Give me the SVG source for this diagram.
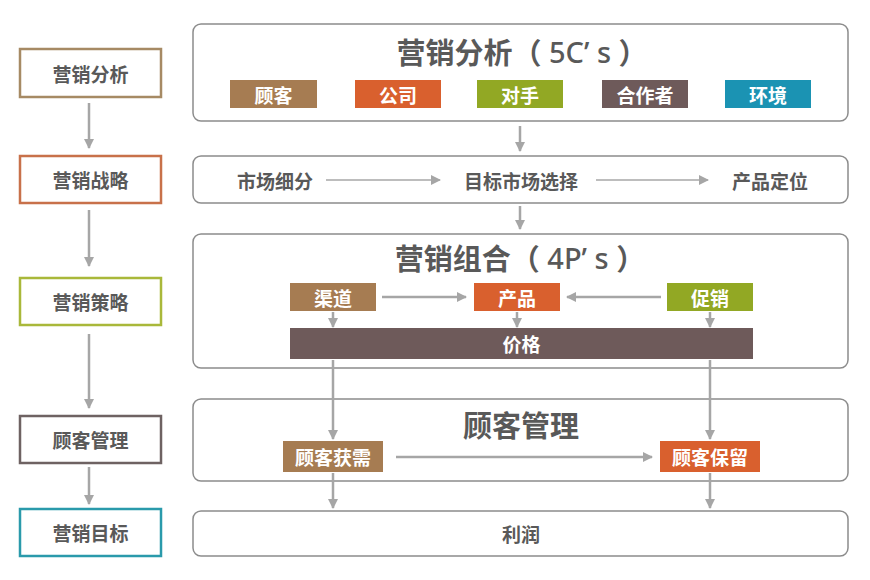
<svg xmlns="http://www.w3.org/2000/svg" width="870" height="580" viewBox="0 0 870 580">
<defs>
<marker id="ah" viewBox="0 0 10 10" refX="9" refY="5" markerWidth="10" markerHeight="10" markerUnits="userSpaceOnUse" orient="auto">
<path d="M0,0 L10,5 L0,10 z" fill="#a6a6a6"/>
</marker>
<style>
text{font-family:"Noto Sans CJK SC","Noto Sans",sans-serif;font-weight:bold;text-anchor:middle;dominant-baseline:central}
.lb{fill:#fff;stroke-width:2.5}
.lt{font-size:19px;fill:#595959}
.panel{fill:#fff;stroke:#8c8c8c;stroke-width:1.5}
.title{font-size:29px;fill:#595959}
.lat{font-family:"Noto Sans","Liberation Sans",sans-serif;font-weight:500}
.tag{font-size:19px;fill:#fff}
.txt{font-size:19px;fill:#595959}
.con line{stroke:#a6a6a6;stroke-width:2.5;marker-end:url(#ah)}
</style>
</defs>
<rect width="870" height="580" fill="#fff"/>

<g id="left-analysis"><rect class="lb" x="20" y="49" width="141" height="48" stroke="#a68a64"/><text class="lt" x="90.5" y="73">营销分析</text></g>
<g id="left-strategy"><rect class="lb" x="20" y="156" width="141" height="47" stroke="#c8714a"/><text class="lt" x="90.5" y="179.5">营销战略</text></g>
<g id="left-tactics"><rect class="lb" x="20" y="278" width="141" height="47" stroke="#a9b83a"/><text class="lt" x="90.5" y="301.5">营销策略</text></g>
<g id="left-customer"><rect class="lb" x="20" y="416" width="141" height="47" stroke="#6e6262"/><text class="lt" x="90.5" y="439.5">顾客管理</text></g>
<g id="left-goal"><rect class="lb" x="20" y="509" width="141" height="47" stroke="#2a9aab"/><text class="lt" x="90.5" y="532.5">营销目标</text></g>

<g id="panel-5c">
<rect class="panel" x="193" y="24" width="655" height="97" rx="8"/>
<text class="title" x="522" y="51">营销分析（<tspan class="lat"> 5C’ s </tspan>）</text>
</g>
<g id="c-customer"><rect x="230" y="80" width="87" height="28" fill="#a67c52"/><text class="tag" x="273.5" y="94">顾客</text></g>
<g id="c-company"><rect x="355" y="80" width="86" height="28" fill="#d9602e"/><text class="tag" x="398" y="94">公司</text></g>
<g id="c-rival"><rect x="477" y="80" width="86" height="28" fill="#92a824"/><text class="tag" x="520" y="94">对手</text></g>
<g id="c-partner"><rect x="602" y="80" width="86" height="28" fill="#6e5a5a"/><text class="tag" x="645" y="94">合作者</text></g>
<g id="c-env"><rect x="725" y="80" width="86" height="28" fill="#1b93b3"/><text class="tag" x="768" y="94">环境</text></g>

<g id="panel-stp">
<rect class="panel" x="193" y="156" width="655" height="47" rx="8"/>
</g>
<g id="s-seg"><text class="txt" x="275" y="180">市场细分</text></g>
<g id="s-target"><text class="txt" x="521" y="180">目标市场选择</text></g>
<g id="s-pos"><text class="txt" x="770" y="180">产品定位</text></g>

<g id="panel-4p">
<rect class="panel" x="193" y="234" width="655" height="134" rx="8"/>
<text class="title" x="520" y="257">营销组合（<tspan class="lat"> 4P’ s </tspan>）</text>
</g>
<g id="p-place"><rect x="290" y="283" width="86" height="28" fill="#a67c52"/><text class="tag" x="333" y="297">渠道</text></g>
<g id="p-product"><rect x="474" y="283" width="86" height="28" fill="#d9602e"/><text class="tag" x="517" y="297">产品</text></g>
<g id="p-promo"><rect x="667" y="283" width="86" height="28" fill="#92a824"/><text class="tag" x="710" y="297">促销</text></g>
<g id="p-price"><rect x="290" y="328" width="463" height="31" fill="#6e5a5a"/><text class="tag" x="521.5" y="343.5">价格</text></g>

<g id="panel-crm">
<rect class="panel" x="193" y="399" width="655" height="82" rx="8"/>
<text class="title" x="521" y="424">顾客管理</text>
</g>
<g id="m-acquire"><rect x="283" y="441" width="100" height="31" fill="#a67c52"/><text class="tag" x="333" y="456.5">顾客获需</text></g>
<g id="m-retain"><rect x="660" y="441" width="100" height="31" fill="#d9602e"/><text class="tag" x="710" y="456.5">顾客保留</text></g>

<g id="panel-profit">
<rect class="panel" x="193" y="511" width="655" height="45" rx="8"/>
<text class="txt" x="521" y="533.5">利润</text>
</g>

<g id="connectors" class="con">
<line x1="89" y1="103" x2="89" y2="148"/>
<line x1="89" y1="210" x2="89" y2="266"/>
<line x1="89" y1="334" x2="89" y2="408"/>
<line x1="89" y1="467" x2="89" y2="504"/>
<line x1="520" y1="126" x2="520" y2="151"/>
<line x1="520" y1="206" x2="520" y2="229"/>
<line x1="326" y1="180" x2="440" y2="180" style="stroke:#bdbdbd;stroke-width:2"/>
<line x1="596" y1="180" x2="708" y2="180" style="stroke:#bdbdbd;stroke-width:2"/>
<line x1="382" y1="297" x2="466" y2="297"/>
<line x1="661" y1="297" x2="567" y2="297"/>
<line x1="333" y1="312" x2="333" y2="327"/>
<line x1="517" y1="312" x2="517" y2="327"/>
<line x1="710" y1="312" x2="710" y2="327"/>
<line x1="333" y1="360" x2="333" y2="439"/>
<line x1="710" y1="360" x2="710" y2="439"/>
<line x1="396" y1="457" x2="652" y2="457"/>
<line x1="333" y1="473" x2="333" y2="508"/>
<line x1="710" y1="473" x2="710" y2="508"/>
</g>
</svg>
